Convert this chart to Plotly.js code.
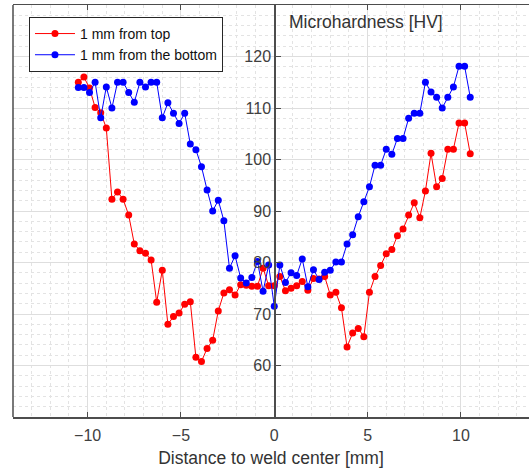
<!DOCTYPE html>
<html>
<head>
<meta charset="utf-8">
<script src="https://cdn.plot.ly/plotly-3.0.1.min.js"></script>
<style>html,body{margin:0;padding:0;background:#fff;}#chart{width:529px;height:470px;}</style>
</head>
<body>
<div id="chart"></div>
<script>
// Distance to weld center [mm]
const distance = [-10.5,-10.2,-9.9,-9.6,-9.3,-9.0,-8.7,-8.4,-8.1,-7.8,-7.5,-7.2,-6.9,-6.6,-6.3,-6.0,-5.7,-5.4,-5.1,-4.8,-4.5,-4.2,-3.9,-3.6,-3.3,-3.0,-2.7,-2.4,-2.1,-1.8,-1.5,-1.2,-0.9,-0.6,-0.3,0.0,0.3,0.6,0.9,1.2,1.5,1.8,2.1,2.4,2.7,3.0,3.3,3.6,3.9,4.2,4.5,4.8,5.1,5.4,5.7,6.0,6.3,6.6,6.9,7.2,7.5,7.8,8.1,8.4,8.7,9.0,9.3,9.6,9.9,10.2,10.5];
// Microhardness [HV], 1 mm from top
const hvTop = [115.0,116.0,113.9,110.1,109.1,106.1,92.3,93.7,92.3,89.2,83.6,82.3,81.8,80.5,72.3,78.5,68.0,69.5,70.2,71.9,72.4,61.6,60.8,63.3,64.9,70.6,74.1,74.7,73.7,75.7,75.6,75.4,75.4,78.9,75.5,75.5,77.3,74.5,75.0,75.5,76.3,74.6,76.9,76.8,77.3,73.7,74.2,71.2,63.6,66.3,67.2,65.6,74.2,77.3,79.4,81.7,82.5,85.2,86.5,89.2,91.6,88.7,93.9,101.2,94.7,96.3,102.0,102.0,107.1,107.1,101.1];
// Microhardness [HV], 1 mm from the bottom
const hvBottom = [114.0,114.0,113.0,115.0,108.1,114.1,110.0,115.0,115.0,113.0,111.1,115.0,114.1,115.0,115.0,108.1,111.0,109.0,107.0,109.0,103.0,101.9,98.6,94.1,90.0,92.1,88.1,78.9,81.3,77.0,76.0,77.1,80.2,74.4,79.5,71.5,79.5,76.1,78.0,77.5,80.7,75.3,78.6,76.7,78.1,78.5,80.1,80.1,83.6,85.4,88.9,91.8,94.7,98.9,98.9,102.0,101.0,104.1,104.1,108.0,109.0,109.0,115.0,113.1,112.1,110.0,112.1,114.1,118.1,118.1,112.1];
const seriesNames = ['1 mm from top', '1 mm from the bottom'];
const xTicks = [-10, -5, 0, 5, 10];
const yTicks = [60, 70, 80, 90, 100, 110, 120];

const axisColor = '#4d4d4d';
const traces = [
  {x: distance, y: hvTop, name: seriesNames[0], type: 'scatter', mode: 'lines+markers',
   line: {color: '#ff0000', width: 1}, marker: {color: '#ff0000', size: 7}},
  {x: distance, y: hvBottom, name: seriesNames[1], type: 'scatter', mode: 'lines+markers',
   line: {color: '#0000ff', width: 1}, marker: {color: '#0000ff', size: 7}}
];
const xr = [-14, 13.65];
const layout = {
  width: 529, height: 470,
  margin: {l: 13, r: 0, t: 5, b: 53},
  paper_bgcolor: '#ffffff', plot_bgcolor: '#ffffff',
  font: {family: 'Liberation Sans, Arial, sans-serif', size: 16, color: '#333333'},
  showlegend: true,
  legend: {x: 0.031, y: 0.971, xanchor: 'left', yanchor: 'top', bgcolor: '#ffffff',
           bordercolor: '#262626', borderwidth: 1, font: {size: 14, color: '#111111'},
           tracegroupgap: 0, itemwidth: 40},
  xaxis: {range: xr, tickvals: xTicks, ticks: 'inside', ticklen: 5, tickcolor: axisColor,
          showline: true, linecolor: axisColor, linewidth: 1.5, mirror: 'ticks', zeroline: false,
          showgrid: true, gridcolor: '#dedede', gridwidth: 1,
          minor: {dtick: 1, showgrid: true, griddash: 'dot', gridcolor: '#e3e3e3', ticks: ''},
          tickfont: {size: 16, color: '#404040'}, ticklabelstandoff: 3,
          title: {text: 'Distance to weld center [mm]', font: {size: 17.5, color: '#333333'}, standoff: 9}},
  yaxis: {range: [50, 130], tickvals: yTicks, ticks: 'inside', ticklen: 5, tickcolor: axisColor,
          anchor: 'free', position: (0 - xr[0]) / (xr[1] - xr[0]),
          showline: true, linecolor: axisColor, linewidth: 1.5, zeroline: false,
          showgrid: true, gridcolor: '#dedede', gridwidth: 1,
          minor: {dtick: 2, showgrid: true, griddash: 'dot', gridcolor: '#e3e3e3', ticks: ''},
          tickfont: {size: 16, color: '#404040'}},
  shapes: [
    {type: 'line', xref: 'paper', yref: 'paper', x0: 0, x1: 0, y0: 0, y1: 1,
     line: {color: axisColor, width: 1.5}}
  ],
  annotations: [
    {text: 'Microhardness [HV]', xref: 'x', yref: 'paper', x: 0.7, y: 0.959,
     xanchor: 'left', yanchor: 'middle', showarrow: false, font: {size: 17.5, color: '#333333'}}
  ]
};
Plotly.newPlot('chart', traces, layout, {displayModeBar: false, staticPlot: true});
</script>
</body>
</html>
